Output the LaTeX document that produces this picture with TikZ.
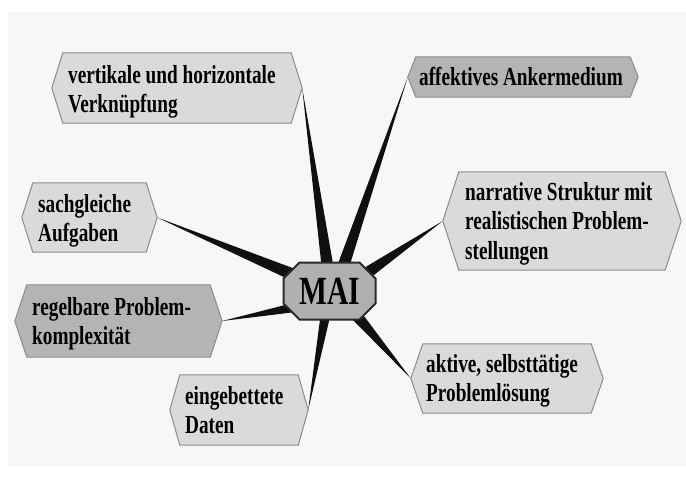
\documentclass[tikz,border=0pt]{standalone}
\usepackage{fontspec}
\newfontfamily\lblfont{Liberation Serif}[FakeStretch=0.74]
\usetikzlibrary{calc,shapes.misc,backgrounds}
\pgfdeclarelayer{panel}
\pgfsetlayers{panel,background,main}
\definecolor{panelc}{HTML}{F7F7F7}
\definecolor{boxlight}{HTML}{DADADA}
\definecolor{boxdark}{HTML}{B4B4B4}
\definecolor{boxedge}{HTML}{8C8C8C}
\definecolor{maifill}{HTML}{B0B0B0}
\definecolor{maiedge}{HTML}{2A2A2A}
\definecolor{wedgec}{HTML}{101010}
\tikzset{
  area/.style={rectangle, inner sep=0pt, draw=none},
  hexlight/.style={fill=boxlight, draw=boxedge, line width=1pt, line join=miter},
  hexdark/.style={fill=boxdark, draw=boxedge, line width=1pt, line join=miter},
  lbl/.style={anchor=north west, inner sep=0pt, align=left, text=black,
    font=\lblfont\bfseries\fontsize{26}{29.5}\selectfont},
  wedge/.style={fill=wedgec},
  mai/.style={chamfered rectangle, chamfered rectangle xsep=8pt, chamfered rectangle ysep=8pt,
    minimum width=92pt, minimum height=57pt, inner sep=0pt, fill=maifill, draw=maiedge, line width=2pt,
    font=\lblfont\bfseries\fontsize{40}{42}\selectfont}
}
\newcommand{\hexpath}[2]{(#1.west) -- ([xshift=#2]#1.north west) -- ([xshift=-#2]#1.north east) -- (#1.east) -- ([xshift=-#2]#1.south east) -- ([xshift=#2]#1.south west) -- cycle}
\begin{document}
\begin{tikzpicture}[x=1pt,y=-1pt]
\useasboundingbox (0,0) rectangle (686,477);
\begin{pgfonlayer}{panel}
  \fill[white] (0,0) rectangle (686,477);
  \fill[panelc] (8,12) rectangle (686,467);
\end{pgfonlayer}

% box areas
\node[area, minimum width=250pt, minimum height=70pt] (b1) at (177,88) {};
\node[area, minimum width=230pt, minimum height=40pt] (b2) at (523,77) {};
\node[area, minimum width=238pt, minimum height=98pt] (b3) at (562,221) {};
\node[area, minimum width=135pt, minimum height=69pt] (b4) at (89.5,217.5) {};
\node[area, minimum width=207pt, minimum height=72pt] (b5) at (118.5,321) {};
\node[area, minimum width=138pt, minimum height=70pt] (b6) at (239,410) {};
\node[area, minimum width=192pt, minimum height=69pt] (b7) at (507,378.5) {};

% texts
\node[lbl] (t1) at (68,63) {\rule{0pt}{20pt}vertikale und horizontale\\Verknüpfung};
\node[lbl] (t2) at (419,65) {\rule{0pt}{20pt}affektives Ankermedium};
\node[lbl] (t3) at (465,180) {\rule{0pt}{20pt}narrative Struktur mit\\realistischen Problem-\\stellungen};
\node[lbl] (t4) at (38,192) {\rule{0pt}{20pt}sachgleiche\\Aufgaben};
\node[lbl] (t5) at (32,295) {\rule{0pt}{20pt}regelbare Problem-\\komplexität};
\node[lbl] (t6) at (185,384) {\rule{0pt}{20pt}eingebettete\\Daten};
\node[lbl] (t7) at (426,352) {\rule{0pt}{20pt}aktive, selbsttätige\\Problemlösung};

% centre
\node[mai] (mai) at (329.5,291) {MAI};
\coordinate (m1) at ($(mai.center)+(-1.5,-21)$);
\coordinate (m2) at ($(mai.center)+(12.5,-21)$);
\coordinate (m3) at ($(mai.center)+(36,-17)$);
\coordinate (m4) at ($(mai.center)+(-38,-17)$);
\coordinate (m5) at ($(mai.center)+(-38,17)$);
\coordinate (m6) at ($(mai.center)+(-3.5,21)$);
\coordinate (m7) at ($(mai.center)+(24,21)$);

\begin{pgfonlayer}{background}
  \draw[hexlight] \hexpath{b1}{11};
  \draw[hexdark]  \hexpath{b2}{8};
  \draw[hexlight] \hexpath{b3}{16};
  \draw[hexlight] \hexpath{b4}{11};
  \draw[hexdark]  \hexpath{b5}{12};
  \draw[hexlight] \hexpath{b6}{10};
  \draw[hexlight] \hexpath{b7}{12};
  % connectors (tapered)
  \fill[wedge] (b1.east) -- ($(m1)!6pt!90:(b1.east)$) -- ($(m1)!6pt!-90:(b1.east)$) -- cycle;
  \fill[wedge] (b2.west) -- ($(m2)!6pt!90:(b2.west)$) -- ($(m2)!6pt!-90:(b2.west)$) -- cycle;
  \fill[wedge] (b3.west) -- ($(m3)!6pt!90:(b3.west)$) -- ($(m3)!6pt!-90:(b3.west)$) -- cycle;
  \fill[wedge] (b4.east) -- ($(m4)!6pt!90:(b4.east)$) -- ($(m4)!6pt!-90:(b4.east)$) -- cycle;
  \fill[wedge] (b5.east) -- ($(m5)!4.5pt!90:(b5.east)$) -- ($(m5)!4.5pt!-90:(b5.east)$) -- cycle;
  \fill[wedge] (b6.east) -- ($(m6)!5pt!90:(b6.east)$) -- ($(m6)!5pt!-90:(b6.east)$) -- cycle;
  \fill[wedge] (b7.west) -- ($(m7)!6pt!90:(b7.west)$) -- ($(m7)!6pt!-90:(b7.west)$) -- cycle;
\end{pgfonlayer}
\end{tikzpicture}
\end{document}
